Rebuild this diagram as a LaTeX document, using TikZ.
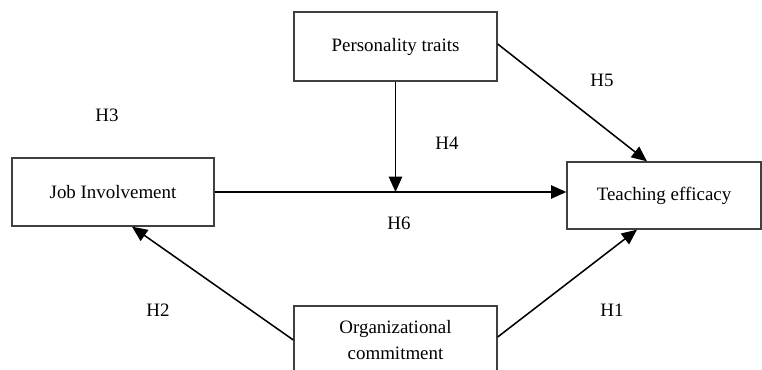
\documentclass[tikz,border=0pt]{standalone}
\usepackage{fontspec}
\setmainfont{Liberation Serif}
\usetikzlibrary{arrows.meta,calc}
\definecolor{boxgray}{RGB}{64,64,64}
\tikzset{
    varbox/.style={draw=boxgray,line width=1pt,fill=white,align=center,inner sep=0pt,
        font=\fontsize{14.2}{19}\selectfont},
    path/.style={draw=black,line width=1.15pt,-{Triangle[length=11.5pt,width=10pt]}},
    hyp/.style={font=\fontsize{14.2}{17}\selectfont}
}

\begin{document}
\begin{tikzpicture}[x=0.75pt,y=-0.75pt]
    	% border
    	\clip (0,0) rectangle (762,370);
    	% boxes
    	\node[varbox,minimum width=152.25pt,minimum height=51.75pt] (pers)  at (395.5,46.5) {Personality traits};
    	\node[varbox,minimum width=151.5pt,minimum height=51pt]     (job)   at (113,192)    {Job Involvement};
    	\node[varbox,minimum width=145.5pt,minimum height=50.25pt]  (teach) at (664,195.5)  {Teaching efficacy};
    	\node[varbox,minimum width=152.25pt,minimum height=51pt]    (org)   at (395.5,340)  {Organizational\\commitment};
    	% end points on the boxes
    	\coordinate (jobin)  at ($(job.south)+(19,0)$);
    	\coordinate (teachn) at ($(teach.north)+(-17,0)$);
    	\coordinate (teachs) at ($(teach.south)+(-27,0)$);
    	\coordinate (persout) at ($(pers.east)+(0,-2.5)$);
    	\coordinate (orgout)  at ($(org.east)+(0,-3)$);
    	\coordinate (mod) at (pers.south |- job.east);
    	% paths
    	\draw[path] (job.east) -- (job.east -| teach.west);
    	\draw[path] (pers.south) -- (mod);
    	\draw[path] (persout) -- (teachn);
    	\draw[path] (org.west) -- (jobin);
    	\draw[path] (orgout) -- (teachs);
    	% hypothesis labels
    	\node[hyp] (h1) at (612,310) {H1};
    	\node[hyp] (h2) at (158,310) {H2};
    	\node[hyp] (h3) at (107,115) {H3};
    	\node[hyp] (h4) at (447,143) {H4};
    	\node[hyp] (h5) at (602,80)  {H5};
    	\node[hyp] (h6) at (399,223) {H6};
\end{tikzpicture}
\end{document}
